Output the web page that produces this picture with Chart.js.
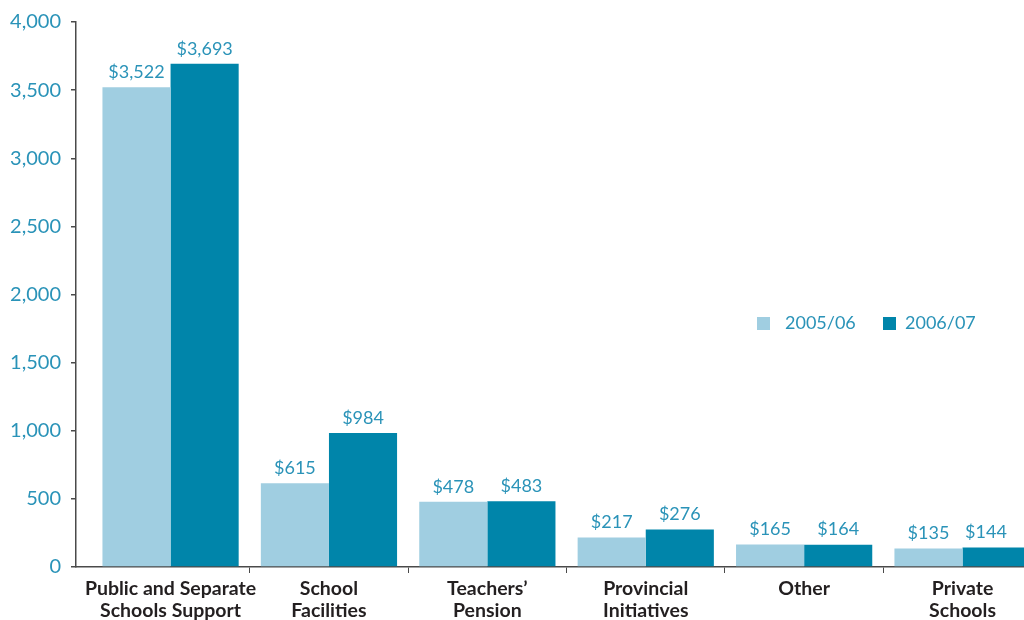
<!DOCTYPE html>
<html>
<head>
<meta charset="utf-8">
<script src="https://cdn.jsdelivr.net/npm/chart.js@4/dist/chart.umd.min.js"></script>
<style>
  html, body { margin: 0; padding: 0; background: #fff; overflow: hidden; }
  #wrap { width: 1024px; height: 620px; }
</style>
</head>
<body>
<div id="wrap"><canvas id="spendChart"></canvas></div>
<script>
// Education spending by program ($ millions)
const categories = [
  ["Public and Separate", "Schools Support"],
  ["School", "Facilities"],
  ["Teachers\u2019", "Pension"],
  ["Provincial", "Initiatives"],
  ["Other"],
  ["Private", "Schools"],
];
const seriesNames = ["2005/06", "2006/07"];
const spend0506 = [3522, 615, 478, 217, 165, 135];
const spend0607 = [3693, 984, 483, 276, 164, 144];
const yTicks = [0, 500, 1000, 1500, 2000, 2500, 3000, 3500, 4000];

const LIGHT = "#a0cee1";
const DARK = "#0085aa";
const TEAL_TEXT = "#2a93b8";
const AXIS = "#4a4a4a";
const FONT = "Lato, 'Open Sans', sans-serif";

const fmt = (v) => "$" + v.toLocaleString("en-US");

// value labels above each bar
const valueLabels = {
  id: "valueLabels",
  afterDatasetsDraw(chart) {
    const ctx = chart.ctx;
    ctx.save();
    ctx.font = "18px " + FONT;
    ctx.fillStyle = TEAL_TEXT;
    ctx.textAlign = "center";
    ctx.textBaseline = "bottom";
    chart.data.datasets.forEach((ds, di) => {
      chart.getDatasetMeta(di).data.forEach((bar, i) => {
        const x = Math.min(bar.x, chart.chartArea.right - 38);
        ctx.fillText(fmt(ds.data[i].y), x, bar.y - 6);
      });
    });
    ctx.restore();
  },
};

// legend sitting inside the plot on the right
const insideLegend = {
  id: "insideLegend",
  afterDraw(chart) {
    const ctx = chart.ctx;
    ctx.save();
    ctx.font = "18px " + FONT;
    ctx.textBaseline = "middle";
    const items = [
      { box: 757, text: 785 },
      { box: 883, text: 905 },
    ];
    chart.data.datasets.forEach((ds, i) => {
      const y = 323;
      ctx.fillStyle = ds.backgroundColor;
      ctx.fillRect(items[i].box, y - 6, 13, 13);
      ctx.fillStyle = TEAL_TEXT;
      ctx.fillText(ds.label, items[i].text, y);
    });
    ctx.restore();
  },
};

const ctx = document.getElementById("spendChart").getContext("2d");
new Chart(ctx, {
  type: "bar",
  data: {
    datasets: [
      {
        label: seriesNames[0],
        data: spend0506.map((v, i) => ({ x: i, y: v })),
        backgroundColor: LIGHT,
      },
      {
        label: seriesNames[1],
        data: spend0607.map((v, i) => ({ x: i, y: v })),
        backgroundColor: DARK,
      },
    ],
  },
  options: {
    responsive: true,
    maintainAspectRatio: false,
    animation: false,
    barPercentage: 1,
    categoryPercentage: 0.86,
    layout: { padding: { top: 20, right: 0, left: 0, bottom: 0 } },
    scales: {
      x: {
        type: "linear",
        offset: false,
        min: -0.597,
        max: 5.388,
        afterBuildTicks: (scale) => {
          scale.ticks = categories.map((_, i) => ({ value: i }));
        },
        afterFit: (scale) => {
          scale.height = 53;
        },
        ticks: {
          autoSkip: false,
          maxRotation: 0,
          padding: 5,
          color: "#231f20",
          font: { family: FONT, size: 19.5, weight: "bold", lineHeight: 1.13 },
          callback: (v) => categories[v],
        },
        grid: {
          offset: true,
          drawOnChartArea: false,
          tickLength: 6,
          color: (c) => (c.index === 0 ? "rgba(0,0,0,0)" : AXIS),
        },
        border: { color: AXIS, width: 1.5 },
      },
      y: {
        min: 0,
        max: 4000,
        afterBuildTicks: (scale) => {
          scale.ticks = yTicks.map((v) => ({ value: v }));
        },
        afterFit: (scale) => {
          scale.width = 76;
        },
        ticks: {
          color: TEAL_TEXT,
          padding: 10,
          font: { family: FONT, size: 20 },
          callback: (v) => v.toLocaleString("en-US"),
        },
        grid: {
          drawOnChartArea: false,
          tickLength: 5,
          color: AXIS,
          lineWidth: 1.5,
        },
        border: { color: AXIS, width: 1.5 },
      },
    },
    plugins: {
      legend: { display: false },
      tooltip: { enabled: false },
    },
  },
  plugins: [valueLabels, insideLegend],
});
</script>
</body>
</html>
